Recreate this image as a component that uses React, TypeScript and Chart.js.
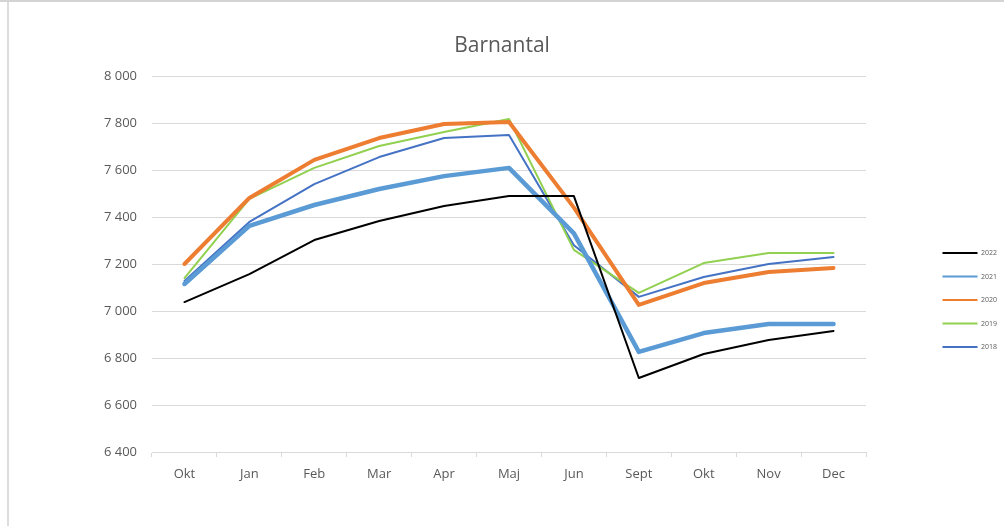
import React, { useEffect, useRef } from 'react';
import { Chart, registerables } from 'chart.js';

Chart.register(...registerables);

const categories = ['Okt', 'Jan', 'Feb', 'Mar', 'Apr', 'Maj', 'Jun', 'Sept', 'Okt', 'Nov', 'Dec'];
const seriesLabels = ['2022', '2021', '2020', '2019', '2018'];
const values2022 = [7038, 7157, 7302, 7383, 7447, 7489, 7489, 6715, 6817, 6877, 6915];
const values2021 = [7115, 7362, 7451, 7519, 7574, 7609, 7330, 6826, 6906, 6945, 6945];
const values2020 = [7200, 7481, 7643, 7736, 7796, 7804, 7440, 7026, 7119, 7166, 7183];
const values2019 = [7140, 7477, 7609, 7702, 7762, 7817, 7260, 7077, 7204, 7247, 7247];
const values2018 = [7128, 7379, 7540, 7655, 7736, 7749, 7280, 7060, 7145, 7200, 7230];
const seriesColors = ['#000000', '#5B9BD5', '#ED7D31', '#92D050', '#4472C4'];
const seriesWidths = [2, 4.5, 4, 2, 2];
const yMin = 6400;
const yMax = 8000;
const yStep = 200;
const title = 'Barnantal';

const FONT = "'Open Sans', sans-serif";
const TEXT = '#595959';
const GRID = '#d9d9d9';

function formatTick(v: number): string {
  const s = String(Math.round(v));
  return s.replace(/\B(?=(\d{3})+(?!\d))/g, ' ');
}

export default function App() {
  const ref = useRef<HTMLCanvasElement>(null);
  useEffect(() => {
    const allValues = [values2022, values2021, values2020, values2019, values2018];
    const chart = new Chart(ref.current!, {
      type: 'line',
      data: {
        labels: categories,
        datasets: seriesLabels.map((label, i) => ({
          label,
          data: allValues[i],
          borderColor: seriesColors[i],
          backgroundColor: seriesColors[i],
          borderWidth: seriesWidths[i],
          pointRadius: 0,
          pointHoverRadius: 0,
          tension: 0,
          fill: false,
          borderJoinStyle: 'round' as const,
          borderCapStyle: 'round' as const,
        })),
      },
      options: {
        responsive: false,
        animation: false,
        layout: { padding: 0 },
        plugins: {
          tooltip: { enabled: false },
          title: {
            display: true,
            text: title,
            color: TEXT,
            font: { family: FONT, size: 21, weight: 'normal' },
            padding: { top: 33.4, bottom: 17.4 },
          },
          legend: {
            position: 'right',
            maxWidth: 78,
            title: {
              display: true,
              text: '',
              font: { size: 1, lineHeight: 1 },
              padding: { top: 0, bottom: 73 },
            },
            labels: {
              boxWidth: 35,
              boxHeight: 2,
              padding: 16.5,
              color: TEXT,
              font: { family: FONT, size: 7 },
              generateLabels: (c: any) =>
                Chart.defaults.plugins.legend.labels
                  .generateLabels(c)
                  .map((l: any) => ({ ...l, lineWidth: 0, fillStyle: l.strokeStyle })),
            },
          },
        },
        scales: {
          x: {
            type: 'category',
            offset: true,
            grid: {
              display: true,
              drawOnChartArea: false,
              drawTicks: true,
              tickLength: 5,
              color: GRID,
              offset: true,
            },
            border: { display: true, color: GRID },
            ticks: {
              color: TEXT,
              font: { family: FONT, size: 13 },
              padding: 9,
              maxRotation: 0,
              autoSkip: false,
            },
            afterFit: (s: any) => {
              s.height = 74;
            },
          },
          y: {
            type: 'linear',
            position: 'left',
            min: yMin,
            max: yMax,
            grid: { color: GRID, drawTicks: false },
            border: { display: false },
            ticks: {
              stepSize: yStep,
              color: TEXT,
              font: { family: FONT, size: 13 },
              padding: 15,
              callback: (v: any) => formatTick(Number(v)),
            },
            afterFit: (s: any) => {
              s.width = 152;
            },
          },
          y2: {
            type: 'linear',
            position: 'right',
            display: true,
            grid: { display: false, drawTicks: false },
            border: { display: false },
            ticks: { display: false },
            afterFit: (s: any) => {
              s.width = 60;
            },
          },
        },
      },
    } as any);
    return () => chart.destroy();
  }, []);

  return (
    <div style={{ position: 'fixed', left: 0, top: 0, width: 1004, height: 526, background: '#ffffff' }}>
      <canvas ref={ref} width={1004} height={526} style={{ display: 'block' }} />
      <div style={{ position: 'absolute', left: 0, top: 0, width: 1004, height: 2, background: '#d4d4d4', pointerEvents: 'none' }} />
      <div style={{ position: 'absolute', left: 7, top: 2, width: 2, height: 524, background: '#dcdcdc', pointerEvents: 'none' }} />
    </div>
  );
}
